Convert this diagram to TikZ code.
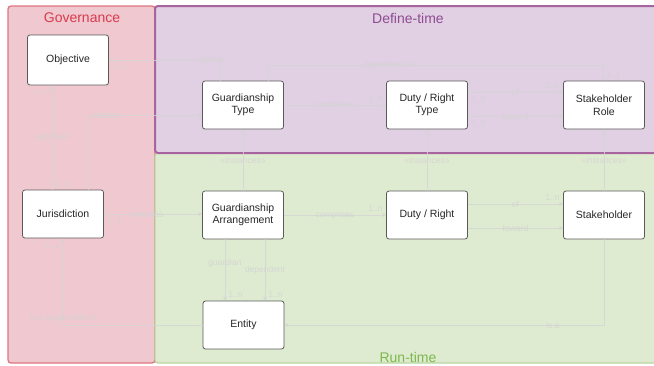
\documentclass[tikz,border=0pt]{standalone}
\usepackage{fontspec}
\setmainfont{Liberation Sans}
\usetikzlibrary{arrows.meta}
\definecolor{govfill}{HTML}{F0C8CF}
\definecolor{govline}{HTML}{E07580}
\definecolor{govtext}{HTML}{D93A4E}
\definecolor{deffill}{HTML}{E1CFE3}
\definecolor{defline}{HTML}{A8649F}
\definecolor{deftext}{HTML}{8E4C91}
\definecolor{runfill}{HTML}{DEEBD0}
\definecolor{runline}{HTML}{B9D69E}
\definecolor{runtext}{HTML}{7DB84C}
\definecolor{connc}{HTML}{D4D4D4}
\definecolor{boxline}{HTML}{5A5A5A}
\tikzset{
  box/.style={draw=boxline, fill=white, line width=0.8pt, rounded corners=2.5pt,
    minimum width=81pt, minimum height=48pt, align=center, inner sep=2pt,
    font=\fontsize{10.5}{12.5}\selectfont, text=black!85},
  conn/.style={draw=connc, opacity=0.8, line width=0.9pt, -{Stealth[length=4pt,width=4pt]}},
  lbl/.style={text=connc, text opacity=0.9, font=\fontsize{8.5}{10}\selectfont, inner sep=1pt},
  region/.style={rounded corners=3pt},
  ttl/.style={font=\fontsize{14}{16}\selectfont}
}
\begin{document}
\begin{tikzpicture}[x=1pt,y=-1pt]
\useasboundingbox (0,0) rectangle (654,365);
% regions
\draw[region, fill=govfill, draw=govline, line width=1.3pt] (8,6) rectangle (155,363);
\draw[region, fill=runfill, draw=runline, line width=1.3pt] (155,153) rectangle (660,363);
\draw[region, fill=deffill, draw=defline, line width=2pt] (155,6) rectangle (660,153);
\node[ttl, text=govtext] (tgov) at (82,18) {Governance};
\node[ttl, text=deftext] (tdef) at (408,18) {Define-time};
\node[ttl, text=runtext] (trun) at (408,357) {Run-time};
% nodes
\node[box, minimum height=50pt] (obj) at (68,60) {Objective};
\node[box] (gt) at (243,105) {Guardianship\\Type};
\node[box] (drt) at (427,105) {Duty / Right\\Type};
\node[box] (sr) at (604,105) {Stakeholder\\Role};
\node[box] (jur) at (63,214) {Jurisdiction};
\node[box] (ga) at (243,215) {Guardianship\\Arrangement};
\node[box] (dr) at (427,215) {Duty / Right};
\node[box] (st) at (604,215) {Stakeholder};
\node[box] (ent) at (243.5,325) {Entity};
% connectors
\draw[conn] ([xshift=-23pt]gt.north) |- (obj.east)
  node[lbl, pos=0.54] {serves}
  node[lbl, pos=1, anchor=north west, xshift=3pt, yshift=-2pt] {1..n};
\draw[conn] ([xshift=25pt]gt.north) -- ++(0,-15) -| ([xshift=-1pt]sr.north)
  node[lbl, pos=0.18] {dependent on}
  node[lbl, pos=1, anchor=south west, xshift=2pt, yshift=2pt] {1..1};
\draw[conn] (gt.east) -- (drt.west)
  node[lbl, midway] {comprises}
  node[lbl, pos=1, anchor=south east, xshift=-2pt, yshift=2pt] {1..n};
\draw[conn] ([yshift=13pt]drt.east) -- ([yshift=13pt]sr.west)
  node[lbl, midway] {of}
  node[lbl, pos=0, anchor=north west, xshift=2pt, yshift=-2pt] {1..n}
  node[lbl, pos=1, anchor=south east, xshift=-2pt, yshift=2pt] {1..n};
\draw[conn] ([yshift=-11pt]drt.east) -- ([yshift=-11pt]sr.west)
  node[lbl, midway] {toward}
  node[lbl, pos=0, anchor=north west, xshift=2pt, yshift=-2pt] {1..n};
\draw[conn] ([xshift=-11pt]jur.north) -- ([xshift=-11pt]jur.north |- obj.south)
  node[lbl, midway] {specifies}
  node[lbl, pos=0, anchor=south west, xshift=2pt, yshift=2pt] {1..1}
  node[lbl, pos=1, anchor=north east, xshift=-1pt, yshift=-2pt] {1..n};
\draw[conn] ([xshift=25pt]jur.north) |- ([yshift=-10pt]gt.west)
  node[lbl, pos=0.58] {defines};
\draw[conn] (jur.east) -- (jur.east -| ga.west)
  node[lbl, pos=0.44] {enforces}
  node[lbl, pos=0, anchor=north west, xshift=2pt, yshift=-1pt] {1..1};
\draw[conn] (ga.north) -- (gt.south)
  node[lbl, midway] {\textless\textless instances\textgreater\textgreater};
\draw[conn] (dr.north) -- (drt.south)
  node[lbl, midway] {\textless\textless instances\textgreater\textgreater};
\draw[conn] (st.north) -- (sr.south)
  node[lbl, midway] {\textless\textless instances\textgreater\textgreater};
\draw[conn] (ga.east) -- (dr.west)
  node[lbl, midway] {comprises}
  node[lbl, pos=1, anchor=south east, xshift=-2pt, yshift=2pt] {1..n};
\draw[conn] ([yshift=11pt]dr.east) -- ([yshift=11pt]st.west)
  node[lbl, midway] {of}
  node[lbl, pos=1, anchor=south east, xshift=-2pt, yshift=2pt] {1..n};
\draw[conn] ([yshift=-13pt]dr.east) -- ([yshift=-13pt]st.west)
  node[lbl, midway] {toward};
\draw[conn] ([xshift=-18pt]ga.south) -- ([xshift=-18pt]ga.south |- ent.north)
  node[lbl, pos=0.39] {guardian}
  node[lbl, pos=1, anchor=south west, xshift=2pt, yshift=2pt] {1..n};
\draw[conn] ([xshift=22pt]ga.south) -- ([xshift=22pt]ga.south |- ent.north)
  node[lbl, pos=0.5] {dependent}
  node[lbl, pos=1, anchor=south west, xshift=2pt, yshift=2pt] {1..n};
\draw[conn] (ent.west) -| (jur.south)
  node[lbl, pos=0.5, anchor=south, yshift=1pt] {is a legal entity in}
  node[lbl, pos=1, anchor=north east, xshift=-2pt, yshift=-3pt] {1..1};
\draw[conn] (st.south) |- (ent.east)
  node[lbl, pos=0.58] {is a};
\end{tikzpicture}
\end{document}
